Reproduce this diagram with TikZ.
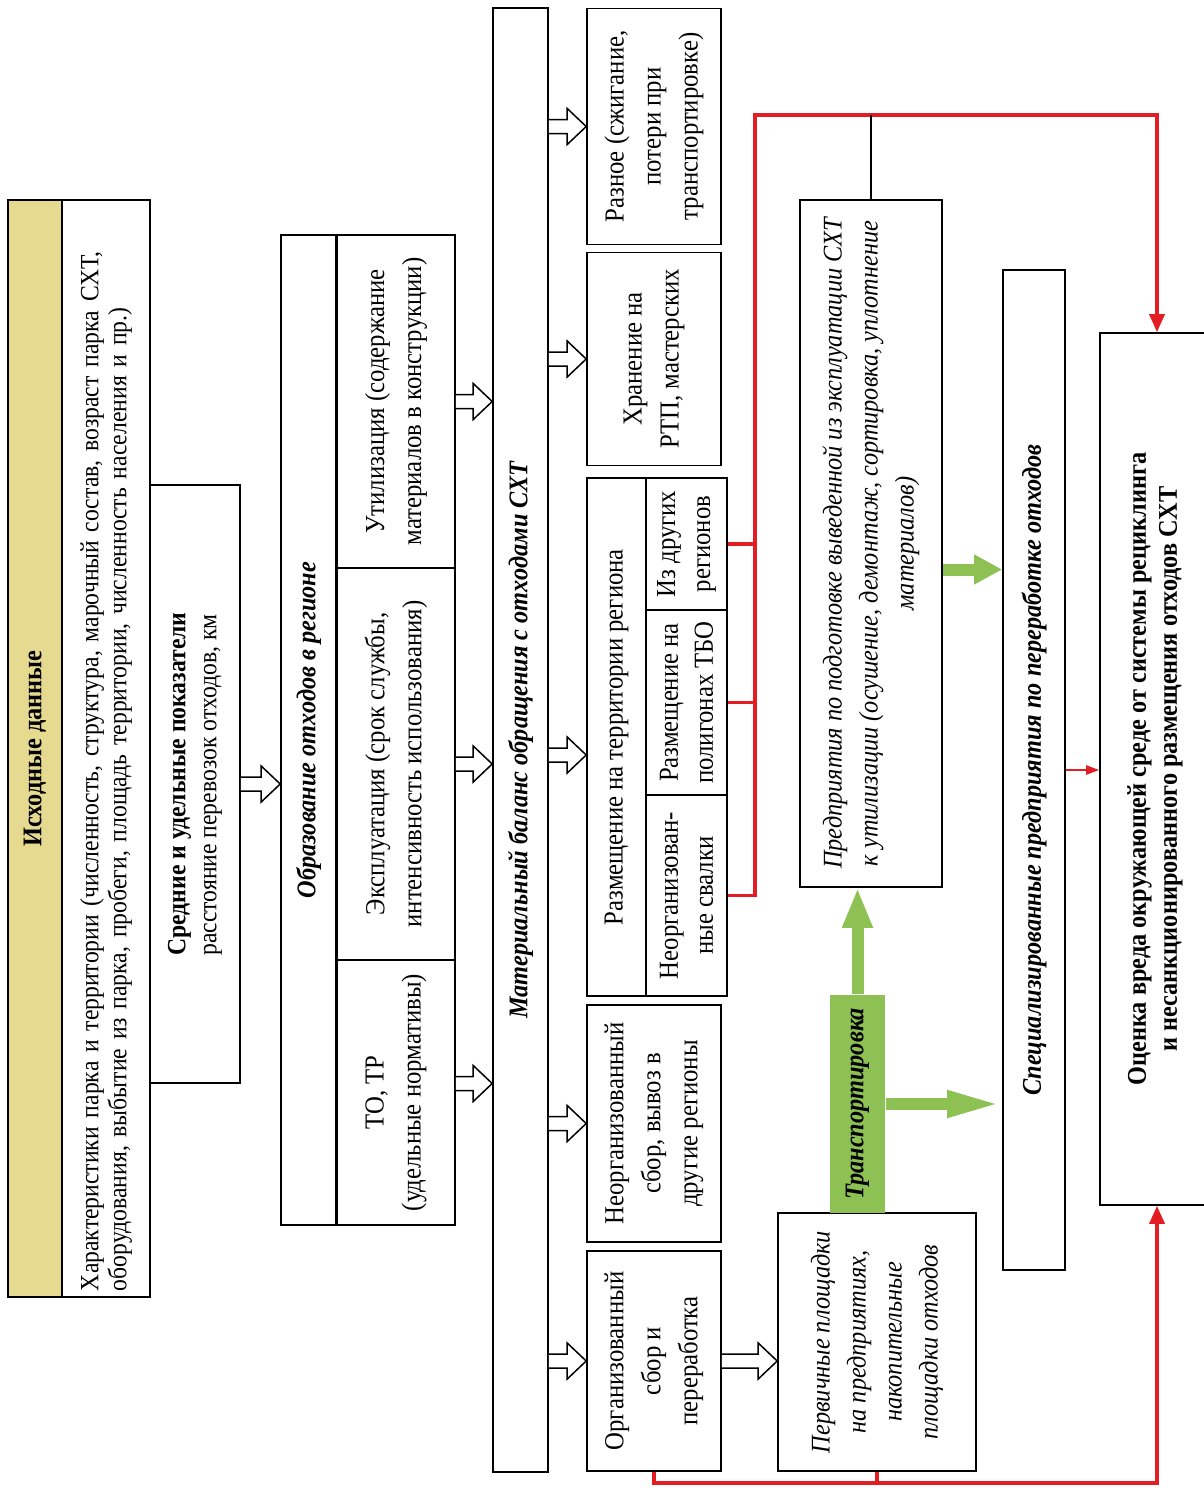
\documentclass[tikz,border=0pt]{standalone}
\usepackage{fontspec}
\setmainfont{Liberation Serif}[FakeStretch=0.9]
\usepackage{xcolor}
\usetikzlibrary{arrows.meta,calc}

\definecolor{hdrc}{RGB}{229,218,143}
\definecolor{grc}{RGB}{141,193,83}
\definecolor{rdc}{RGB}{226,30,36}

% hollow block arrow, pointing right in the page, from #1 to the border #2
\newcommand{\hollowarrow}[2]{%
  \coordinate (ha-a) at #1;
  \coordinate (ha-b) at (ha-a -| #2);
  \draw[line width=1.5pt,fill=white] ($(ha-a)+(0,-7)$) -- ($(ha-b)+(-19,-7)$)
    -- ($(ha-b)+(-19,-18)$) -- (ha-b) -- ($(ha-b)+(-19,18)$)
    -- ($(ha-b)+(-19,7)$) -- ($(ha-a)+(0,7)$);}

\begin{document}
\begin{tikzpicture}[x=1pt,y=-1pt,
   box/.style={draw,line width=1.6pt,rotate=90,inner sep=2pt,align=center,
     font=\fontsize{27.5}{37}\selectfont},
   ital/.style={font=\itshape\fontsize{27}{36}\selectfont},
   bfit/.style={font=\bfseries\itshape\fontsize{27}{30}\selectfont},
   heavy/.style={font=\bfseries\fontsize{27}{31}\selectfont},
   redln/.style={draw=rdc,line width=3.4pt},
   redar/.style={redln,-{Triangle[length=18pt,width=15pt]}},
   garrow/.style={draw=grc,line width=12pt,-{Triangle[length=40pt,width=28pt]}}]
  \useasboundingbox (0,0) rectangle (1203,1488);

  % input data
  \node[box,heavy,fill=hdrc,minimum width=1097pt,minimum height=54pt] (ishod) at (35,748.5) {Исходные данные};
  \node[box,minimum width=1097pt,minimum height=88pt,text width=1085pt,align=left,
        font=\fontsize{26.3}{28}\selectfont] (harakt) at (106,748.5)
    {Характеристики парка и территории (численность, структура, марочный состав, возраст парка СХТ,\\
     оборудования, выбытие из парка, пробеги, площадь территории, численность населения и пр.)};
  \node[box,minimum width=598pt,minimum height=90pt,align=left,font=\fontsize{26.3}{31}\selectfont] (sred) at (195,784)
    {{\bfseries Средние и удельные показатели}\\расстояние перевозок отходов, км};

  % waste generation
  \node[box,bfit,minimum width=990pt,minimum height=55pt] (obrT) at (308.5,730) {Образование отходов в регионе};
  \node[box,minimum width=265pt,minimum height=118pt] (to) at (396,1092.5) {ТО, ТР\\(удельные нормативы)};
  \node[box,minimum width=392pt,minimum height=118pt] (expl) at (396,764) {Эксплуатация (срок службы,\\интенсивность использования)};
  \node[box,minimum width=333pt,minimum height=118pt] (util) at (396,401.5) {Утилизация (содержание\\материалов в конструкции)};

  % balance
  \node[box,bfit,minimum width=1464pt,minimum height=55pt] (bal) at (520.5,740) {Материальный баланс обращения с отходами СХТ};

  % ways of handling
  \node[box,minimum width=220pt,minimum height=134pt] (org) at (654,1361) {Организованный\\сбор и\\переработка};
  \node[box,minimum width=237pt,minimum height=134pt] (neorg) at (654,1123.5) {Неорганизованный\\сбор, вывоз в\\другие регионы};
  \node[box,minimum width=518pt,minimum height=59pt] (razmT) at (616.5,737) {Размещение на территории региона};
  \node[box,minimum width=201pt,minimum height=81pt,font=\fontsize{27.5}{35}\selectfont] (sval) at (686.5,895.5) {Неорганизован-\\ные свалки};
  \node[box,minimum width=185pt,minimum height=81pt,font=\fontsize{27.5}{35}\selectfont] (poly) at (686.5,702.5) {Размещение на\\полигонах ТБО};
  \node[box,minimum width=132pt,minimum height=81pt,font=\fontsize{27.5}{35}\selectfont] (drug) at (686.5,544) {Из других\\регионов};
  \node[box,minimum width=213pt,minimum height=134pt] (hran) at (654,359) {Хранение на\\РТП, мастерских};
  \node[box,minimum width=236pt,minimum height=134pt] (raz) at (654,126.5) {Разное (сжигание,\\потери при\\транспортировке)};

  % recycling chain
  \node[box,ital,minimum width=258pt,minimum height=198pt] (perv) at (877,1342)
    {Первичные площадки\\на предприятиях,\\накопительные\\площадки отходов};
  \node[box,bfit,draw=none,fill=grc,minimum width=218pt,minimum height=55pt] (trans) at (857.5,1104) {Транспортировка};
  \node[box,ital,minimum width=687pt,minimum height=142pt] (predpr) at (871,543.5)
    {Предприятия по подготовке выведенной из эксплуатации СХТ\\к утилизации (осушение, демонтаж, сортировка, уплотнение\\материалов)};
  \node[box,bfit,minimum width=1000pt,minimum height=62pt] (spec) at (1034,770) {Специализированные предприятия по переработке отходов};
  \node[box,heavy,minimum width=872pt,minimum height=110pt] (ocenka) at (1155,769)
    {Оценка вреда окружающей среде от системы рециклинга\\и несанкционированного размещения отходов СХТ};

  % block arrows
  \hollowarrow{(sred.south)}{obrT.north}
  \hollowarrow{($(to.south)+(0,-9)$)}{bal.north}
  \hollowarrow{(expl.south)}{bal.north}
  \hollowarrow{(util.south)}{bal.north}
  \hollowarrow{(bal.south |- org.center)}{org.north}
  \hollowarrow{(bal.south |- neorg.center)}{neorg.north}
  \hollowarrow{($(bal.south |- razmT.center)+(0,18)$)}{razmT.north}
  \hollowarrow{(bal.south |- hran.center)}{hran.north}
  \hollowarrow{(bal.south |- raz.center)}{raz.north}
  \hollowarrow{(org.south)}{perv.north}

  % transport
  \draw[garrow] (trans.east) -- (trans.east |- predpr.west);
  \draw[garrow,-{Triangle[length=55pt,width=24pt]}] (trans.south) -- (trans.south -| spec.north);
  \draw[garrow,-{Triangle[length=28pt,width=28pt]}] ($(predpr.south)+(0,26)$) -- ($(predpr.south -| spec.north)+(0,26)$);

  % red links to the assessment
  \coordinate (rtop) at (755,115);
  \coordinate (rcor) at (1157,115);
  \coordinate (rbot) at (1157,1483);
  \draw[redar] (sval.south) -| (rtop) -- (rcor) -- (rcor |- ocenka.east);
  \draw[redln] (poly.south) -- (poly.south -| rtop);
  \draw[redln] (drug.south) -- (drug.south -| rtop);
  \draw[line width=1.6pt] (predpr.east) -- (predpr.east |- rtop);
  \draw[redar,line width=2.2pt,-{Triangle[length=13pt,width=9pt]}] (spec.south) -- (spec.south -| ocenka.north);
  \draw[redar] (org.west) |- (rbot) -- (rbot |- ocenka.west);
  \draw[redln] (perv.west) -- (perv.west |- rbot);
\end{tikzpicture}
\end{document}
